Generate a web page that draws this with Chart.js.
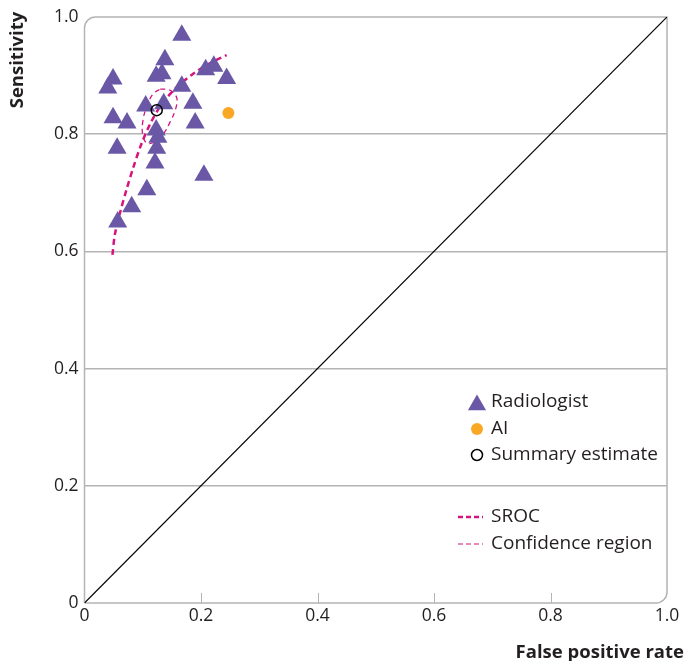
<!DOCTYPE html>
<html>
<head>
<meta charset="utf-8">
<script src="https://cdn.jsdelivr.net/npm/chart.js@4.4.1/dist/chart.umd.min.js"></script>
<style>
  html, body { margin: 0; padding: 0; background: #ffffff; }
  #wrap { width: 684px; height: 661px; position: relative; }
</style>
</head>
<body>
<div id="wrap"><canvas id="c" width="684" height="661"></canvas></div>
<script>
// ---- Data ----
const tickLabels = ['0', '0.2', '0.4', '0.6', '0.8', '1.0'];

// Radiologist studies (false positive rate, sensitivity)
const radFPR  = [0.167, 0.138, 0.123, 0.133, 0.208, 0.222, 0.244, 0.167, 0.049, 0.040,
                 0.105, 0.136, 0.186, 0.049, 0.073, 0.123, 0.190, 0.126, 0.056, 0.124,
                 0.121, 0.205, 0.107, 0.081, 0.057];
const radSens = [0.969, 0.927, 0.899, 0.903, 0.910, 0.916, 0.895, 0.882, 0.894, 0.879,
                 0.848, 0.852, 0.853, 0.828, 0.819, 0.807, 0.819, 0.795, 0.776, 0.776,
                 0.751, 0.730, 0.705, 0.676, 0.650];

// AI
const aiFPR  = [0.247];
const aiSens = [0.836];

// Summary estimate
const sumFPR  = [0.124];
const sumSens = [0.841];

// SROC curve
const srocFPR  = [0.048, 0.052, 0.061, 0.072, 0.084, 0.098, 0.113, 0.131, 0.155, 0.185, 0.215, 0.244];
const srocSens = [0.594, 0.628, 0.666, 0.705, 0.744, 0.784, 0.818, 0.849, 0.877, 0.902, 0.921, 0.935];

// Confidence region (closed outline)
const crFPR  = [0.130, 0.147, 0.158, 0.157, 0.147, 0.135, 0.121, 0.107, 0.100, 0.100, 0.107, 0.118, 0.130];
const crSens = [0.877, 0.875, 0.863, 0.845, 0.821, 0.800, 0.787, 0.785, 0.799, 0.821, 0.848, 0.869, 0.877];

// Chance diagonal
const diagFPR  = [0, 1];
const diagSens = [0, 1];

// ---- Styling ----
const PURPLE = '#6a58a6';
const ORANGE = '#f9a825';
const MAGENTA = '#d6147e';
const TEXT = '#231f20';
const FRAME = '#b4b4b4';
const FONT = '"Open Sans", "Noto Sans", sans-serif';

const pts = (xs, ys) => xs.map((x, i) => ({ x: x, y: ys[i] }));

const framePlugin = {
  id: 'frame',
  beforeDatasetsDraw(chart) {
    const { ctx, chartArea: a, scales } = chart;
    const r = 11;
    ctx.save();
    ctx.strokeStyle = FRAME;
    ctx.lineWidth = 1.5;
    ctx.beginPath();
    ctx.moveTo(a.left, a.bottom);
    ctx.lineTo(a.left, a.top + r);
    ctx.arcTo(a.left, a.top, a.left + r, a.top, r);
    ctx.lineTo(a.right, a.top);
    ctx.lineTo(a.right, a.bottom - r);
    ctx.arcTo(a.right, a.bottom, a.right - r, a.bottom, r);
    ctx.lineTo(a.left, a.bottom);
    ctx.stroke();
    // inward tick marks on the x axis
    ctx.lineWidth = 1;
    ctx.beginPath();
    [0.2, 0.4, 0.6, 0.8].forEach(v => {
      const x = Math.round(scales.x.getPixelForValue(v)) + 0.5;
      ctx.moveTo(x, a.bottom);
      ctx.lineTo(x, a.bottom - 10);
    });
    ctx.stroke();
    ctx.restore();
  },
  afterDraw(chart) {
    const ctx = chart.ctx;
    ctx.save();
    // axis titles
    ctx.fillStyle = TEXT;
    ctx.font = 'bold 18.5px ' + FONT;
    ctx.textAlign = 'right';
    ctx.textBaseline = 'middle';
    ctx.fillText('False positive rate', 684, 653);
    ctx.translate(18, 60);
    ctx.rotate(-Math.PI / 2);
    ctx.textAlign = 'center';
    ctx.fillText('Sensitivity', 0, 0);
    ctx.restore();

    // legend
    ctx.save();
    const lx = 477, tx = 491;
    ctx.font = '19px ' + FONT;
    ctx.fillStyle = TEXT;
    ctx.textAlign = 'left';
    ctx.textBaseline = 'middle';
    // triangle
    ctx.fillStyle = PURPLE;
    ctx.beginPath();
    const tr = 10.5, ty = 405;
    ctx.moveTo(lx, ty - tr);
    ctx.lineTo(lx + tr * 0.866, ty + tr * 0.5);
    ctx.lineTo(lx - tr * 0.866, ty + tr * 0.5);
    ctx.closePath();
    ctx.fill();
    ctx.fillStyle = TEXT;
    ctx.fillText('Radiologist', tx, 402);
    // AI
    ctx.fillStyle = ORANGE;
    ctx.beginPath(); ctx.arc(lx, 429, 6, 0, Math.PI * 2); ctx.fill();
    ctx.fillStyle = TEXT;
    ctx.fillText('AI', tx, 429);
    // Summary
    ctx.strokeStyle = '#000';
    ctx.lineWidth = 1.5;
    ctx.beginPath(); ctx.arc(lx, 455, 5.5, 0, Math.PI * 2); ctx.stroke();
    ctx.fillText('Summary estimate', tx, 455);
    // SROC
    ctx.strokeStyle = MAGENTA;
    ctx.lineWidth = 2.5;
    ctx.setLineDash([5, 3]);
    ctx.beginPath(); ctx.moveTo(458, 517); ctx.lineTo(483, 517); ctx.stroke();
    ctx.fillText('SROC', tx, 517);
    ctx.lineWidth = 1.2;
    ctx.beginPath(); ctx.moveTo(458, 544); ctx.lineTo(483, 544); ctx.stroke();
    ctx.setLineDash([]);
    ctx.fillText('Confidence region', tx, 544);
    ctx.restore();
  }
};

new Chart(document.getElementById('c'), {
  type: 'scatter',
  data: {
    datasets: [
      { label: 'Diagonal', data: pts(diagFPR, diagSens), showLine: true, borderColor: '#000',
        borderWidth: 1.2, pointRadius: 0, order: 6 },
      { label: 'SROC', data: pts(srocFPR, srocSens), showLine: true, borderColor: MAGENTA,
        borderWidth: 2.5, borderDash: [6, 4], pointRadius: 0, tension: 0.3, order: 5 },
      { label: 'Confidence region', data: pts(crFPR, crSens), showLine: true, borderColor: MAGENTA,
        borderWidth: 1.3, borderDash: [5, 4], pointRadius: 0, tension: 0.4, order: 4 },
      { label: 'Radiologist', data: pts(radFPR, radSens), pointStyle: 'triangle', pointRadius: 11,
        backgroundColor: PURPLE, borderColor: PURPLE, borderWidth: 0, order: 3 },
      { label: 'AI', data: pts(aiFPR, aiSens), pointStyle: 'circle', pointRadius: 6,
        backgroundColor: ORANGE, borderColor: ORANGE, borderWidth: 0, order: 2 },
      { label: 'Summary estimate', data: pts(sumFPR, sumSens), pointStyle: 'circle', pointRadius: 5.5,
        backgroundColor: 'rgba(255,255,255,0)', borderColor: '#000', borderWidth: 1.5, order: 1 }
    ]
  },
  options: {
    responsive: false,
    animation: false,
    events: [],
    layout: { padding: { left: 0, top: 17, right: 17, bottom: 0 } },
    plugins: { legend: { display: false }, tooltip: { enabled: false } },
    scales: {
      x: {
        type: 'linear', min: 0, max: 1,
        afterFit: s => { s.height = 58; },
        border: { display: false },
        grid: { display: false, drawTicks: false },
        ticks: { stepSize: 0.2, padding: 3, color: TEXT, font: { family: FONT, size: 17.5 },
                 callback: (v, i) => tickLabels[i] }
      },
      y: {
        type: 'linear', min: 0, max: 1,
        afterFit: s => { s.width = 84.5; },
        border: { display: false },
        grid: { drawTicks: false, lineWidth: 1.5,
                color: c => (c.tick && c.tick.value > 0.01 && c.tick.value < 0.99) ? FRAME : 'rgba(0,0,0,0)' },
        ticks: { stepSize: 0.2, padding: 6, color: TEXT, font: { family: FONT, size: 17.5 },
                 callback: (v, i) => tickLabels[i] }
      }
    }
  },
  plugins: [framePlugin]
});
</script>
</body>
</html>
